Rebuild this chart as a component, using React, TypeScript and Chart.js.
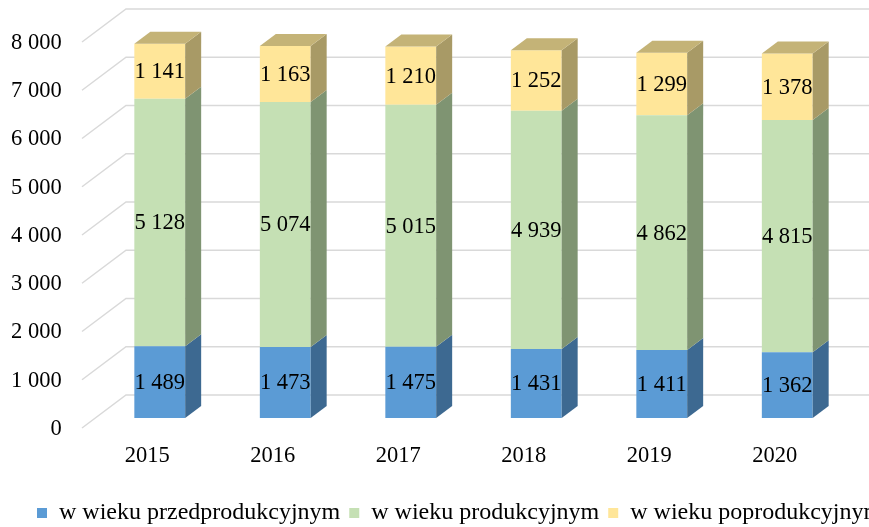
import { useEffect, useRef } from 'react';
import { Chart, registerables } from 'chart.js';

Chart.register(...registerables);

const years = ['2015', '2016', '2017', '2018', '2019', '2020'];
const preProductive = [1489, 1473, 1475, 1431, 1411, 1362];
const productive = [5128, 5074, 5015, 4939, 4862, 4815];
const postProductive = [1141, 1163, 1210, 1252, 1299, 1378];
const seriesNames = ['w wieku przedprodukcyjnym', 'w wieku produkcyjnym', 'w wieku poprodukcyjnym'];
const yMin = 0;
const yMax = 8000;
const yStep = 1000;

const FONT = "'Times New Roman', 'Liberation Serif', serif";
const frontColors = ['#5b9bd5', '#c5e0b4', '#ffe699'];
const sideColors = ['#3d6991', '#7f9472', '#a89a66'];
const topColor = '#c4b377';

const DEPTH_X = 16;
const DEPTH_Y = -12;
const GRID_FRONT_DX = -15;
const GRID_FRONT_DY = 10;
const GRID_BACK_DX = 29;
const GRID_BACK_DY = -23;

const fmt = (v: number) => {
  const s = String(Math.round(v));
  return s.length > 3 ? s.slice(0, -3) + ' ' + s.slice(-3) : s;
};

const threeDPlugin = {
  id: 'threeD',
  beforeDatasetsDraw(chart: any) {
    const { ctx, chartArea, width } = chart;
    const y = chart.scales.y;
    ctx.save();
    ctx.strokeStyle = '#d9d9d9';
    ctx.lineWidth = 1.5;
    y.ticks.forEach((t: any) => {
      const py = y.getPixelForValue(t.value);
      ctx.beginPath();
      ctx.moveTo(chartArea.left + GRID_FRONT_DX, py + GRID_FRONT_DY);
      ctx.lineTo(chartArea.left + GRID_BACK_DX, py + GRID_BACK_DY);
      ctx.lineTo(width, py + GRID_BACK_DY);
      ctx.stroke();
    });
    ctx.restore();
  },
  afterDatasetsDraw(chart: any) {
    const { ctx } = chart;
    const n = chart.data.datasets.length;
    ctx.save();
    for (let d = 0; d < n; d++) {
      const meta = chart.getDatasetMeta(d);
      meta.data.forEach((el: any) => {
        const { x, y, base, width } = el.getProps(['x', 'y', 'base', 'width'], true);
        const left = x - width / 2;
        const right = x + width / 2;
        ctx.fillStyle = sideColors[d];
        ctx.beginPath();
        ctx.moveTo(right, y);
        ctx.lineTo(right + DEPTH_X, y + DEPTH_Y);
        ctx.lineTo(right + DEPTH_X, base + DEPTH_Y);
        ctx.lineTo(right, base);
        ctx.closePath();
        ctx.fill();
        if (d === n - 1) {
          ctx.fillStyle = topColor;
          ctx.beginPath();
          ctx.moveTo(left, y);
          ctx.lineTo(left + DEPTH_X, y + DEPTH_Y);
          ctx.lineTo(right + DEPTH_X, y + DEPTH_Y);
          ctx.lineTo(right, y);
          ctx.closePath();
          ctx.fill();
        }
      });
    }
    ctx.fillStyle = '#000';
    ctx.font = `22.5px ${FONT}`;
    ctx.textAlign = 'center';
    ctx.textBaseline = 'middle';
    for (let d = 0; d < n; d++) {
      const meta = chart.getDatasetMeta(d);
      const values = chart.data.datasets[d].data as number[];
      meta.data.forEach((el: any, i: number) => {
        const { x, y, base } = el.getProps(['x', 'y', 'base'], true);
        ctx.fillText(fmt(values[i]), x, (y + base) / 2 + 1);
      });
    }
    ctx.restore();
  },
};

export default function App() {
  const ref = useRef<HTMLCanvasElement>(null);
  useEffect(() => {
    if (!ref.current) return;
    const chart = new Chart(ref.current, {
      type: 'bar',
      data: {
        labels: years,
        datasets: [
          { label: seriesNames[0], data: preProductive, backgroundColor: frontColors[0], borderWidth: 0, yAxisID: 'y' },
          { label: seriesNames[1], data: productive, backgroundColor: frontColors[1], borderWidth: 0, yAxisID: 'y' },
          { label: seriesNames[2], data: postProductive, backgroundColor: frontColors[2], borderWidth: 0, yAxisID: 'y' },
        ],
      },
      options: {
        animation: false,
        responsive: false,
        devicePixelRatio: 1,
        datasets: { bar: { barPercentage: 1, categoryPercentage: 0.405 } },
        layout: { padding: { left: 28, right: 0, top: 32, bottom: 0 } },
        plugins: {
          legend: {
            position: 'bottom',
            align: 'start',
            labels: {
              boxWidth: 10,
              boxHeight: 10,
              padding: 9,
              color: '#000',
              font: { family: FONT, size: 24 },
            },
          },
          tooltip: { enabled: false },
        },
        scales: {
          x: {
            stacked: true,
            grid: { display: false, drawTicks: false },
            border: { display: false },
            ticks: { color: '#000', font: { family: FONT, size: 22.5 }, padding: 25, labelOffset: -12.5 },
            afterFit: (s: any) => { s.height = 74; },
          },
          y: {
            stacked: true,
            position: 'left',
            min: yMin,
            max: yMax,
            grid: { display: false, drawTicks: false },
            border: { display: false },
            ticks: {
              stepSize: yStep,
              color: '#000',
              font: { family: FONT, size: 22.5 },
              mirror: true,
              crossAlign: 'far',
              padding: -86,
              labelOffset: 11,
              callback: (v: any) => fmt(Number(v)),
            },
            afterFit: (s: any) => { s.width = 69; },
          },
          yRight: {
            position: 'right',
            display: true,
            grid: { display: false, drawTicks: false },
            border: { display: false },
            ticks: { display: false },
            afterFit: (s: any) => { s.width = 110; },
          },
        },
      },
      plugins: [threeDPlugin],
    } as any);
    return () => chart.destroy();
  }, []);
  return (
    <div style={{ position: 'absolute', left: 0, top: 0, width: 869, height: 527, overflow: 'hidden', background: '#fff' }}>
      <canvas ref={ref} width={960} height={535} style={{ display: 'block' }} />
    </div>
  );
}
